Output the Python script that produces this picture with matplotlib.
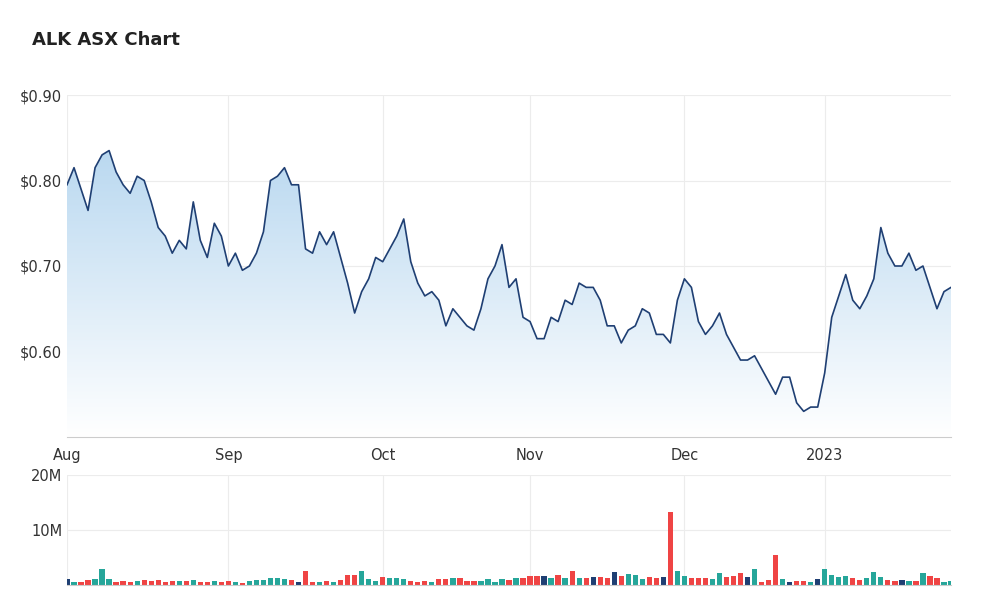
import matplotlib
matplotlib.use("Agg")
import matplotlib.pyplot as plt
import numpy as np
import pandas as pd
from matplotlib.colors import LinearSegmentedColormap

aug = [0.795,0.815,0.79,0.765,0.815,0.83,0.835,0.81,0.795,0.785,0.805,0.80,0.775,0.745,0.735,0.715,0.73,0.72,0.775,0.73,0.71,0.75,0.735]
sep = [0.70,0.715,0.695,0.70,0.715,0.74,0.80,0.805,0.815,0.795,0.795,0.72,0.715,0.74,0.725,0.74,0.71,0.68,0.645,0.67,0.685,0.71]
oct_ = [0.705,0.72,0.735,0.755,0.705,0.68,0.665,0.67,0.66,0.63,0.65,0.64,0.63,0.625,0.65,0.685,0.70,0.725,0.675,0.685,0.64]
nov = [0.635,0.615,0.615,0.64,0.635,0.66,0.655,0.68,0.675,0.675,0.66,0.63,0.63,0.61,0.625,0.63,0.65,0.645,0.62,0.62,0.61,0.66]
dec = [0.685,0.675,0.635,0.62,0.63,0.645,0.62,0.605,0.59,0.59,0.595,0.58,0.565,0.55,0.57,0.57,0.54,0.53,0.535,0.535]
jan = [0.575,0.64,0.665,0.69,0.66,0.65,0.665,0.685,0.745,0.715,0.70,0.70,0.715,0.695,0.70,0.675,0.65,0.67,0.675]
prices = aug + sep + oct_ + nov + dec + jan

volume_m = [1.1,0.6,0.6,0.9,1.1,2.9,1.1,0.6,0.7,0.6,0.8,0.9,0.8,0.9,0.6,0.7,0.8,0.8,0.9,0.6,0.6,0.8,0.6,
            0.7,0.5,0.3,0.8,0.9,0.9,1.3,1.3,1.1,0.9,0.5,2.6,0.5,0.5,0.7,0.5,0.9,1.8,1.9,2.6,1.1,0.7,1.5,1.3,1.3,1.1,0.7,0.5,0.7,
            0.5,1.1,1.1,1.3,1.3,0.7,0.7,0.7,1.1,0.5,1.1,0.9,1.3,1.3,1.7,1.6,1.7,1.3,1.9,1.3,2.6,
            1.3,1.3,1.5,1.5,1.3,2.4,1.6,2.0,1.9,1.1,1.5,1.3,1.5,13.3,2.6,1.7,1.3,1.3,1.3,1.1,2.1,1.5,1.7,
            2.1,1.5,2.9,0.5,0.9,5.5,1.1,0.5,0.7,0.7,0.5,1.1,2.9,1.9,1.5,1.7,1.3,0.9,1.3,2.4,1.5,0.9,0.7,0.9,0.7,0.7,2.1,1.7,1.3,0.5,0.7]

tick_labels = ["Aug","Sep","Oct","Nov","Dec","2023"]
tick_months = ["2022-08","2022-09","2022-10","2022-11","2022-12","2023-01"]

hol = pd.to_datetime(["2022-12-26","2022-12-27","2023-01-02","2023-01-26"])
dates = pd.bdate_range("2022-08-01","2023-01-30")
dates = dates[~dates.isin(hol)]
n = min(len(dates), len(prices), len(volume_m))
dates, prices, volume_m = dates[:n], np.array(prices[:n]), np.array(volume_m[:n])
xs = np.arange(n)
months = dates.strftime("%Y-%m")
tick_pos = [int(np.argmax(months == m)) for m in tick_months]

fig = plt.figure(figsize=(10,6.09), dpi=100)
W, H = 1000, 609
ax = fig.add_axes([67/W, 1-437/H, (951-67)/W, (437-95)/H])
axv = fig.add_axes([67/W, 1-585/H, (951-67)/W, (585-475)/H], sharex=ax)

line = "#1f3f73"
ax.plot(xs, prices, color=line, lw=1.2, zorder=3)
grad = np.linspace(0.0, 1.0, 256).reshape(-1,1)
cm = LinearSegmentedColormap.from_list("g", ["#ffffff", "#b9d8f0"])
im = ax.imshow(grad, aspect="auto", cmap=cm, origin="lower",
               extent=[xs[0], xs[-1], 0.50, 0.84], zorder=1)
poly = ax.fill_between(xs, prices, 0.50, color="none")
im.set_clip_path(poly.get_paths()[0], transform=ax.transData)
ax.set_ylim(0.50, 0.90)
ax.set_xlim(0, n - 1)
ax.set_yticks([0.60,0.70,0.80,0.90])
ax.set_yticklabels(["$0.60","$0.70","$0.80","$0.90"])
ax.set_xticks(tick_pos)
ax.set_xticklabels(tick_labels)

diff = np.diff(np.concatenate([[prices[0]], prices]))
cols = ["#26a69a" if d > 1e-9 else ("#ef4444" if d < -1e-9 else "#1f3f73") for d in diff]
axv.bar(xs, volume_m*1e6, width=0.75, color=cols)
axv.set_ylim(0, 20e6)
axv.set_yticks([10e6, 20e6])
axv.set_yticklabels(["10M","20M"])
plt.setp(axv.get_xticklabels(), visible=False)

for a in (ax, axv):
    a.grid(True, color="#ececec", lw=0.8)
    a.set_axisbelow(True)
    for s in a.spines.values():
        s.set_visible(False)
    a.tick_params(length=0, labelsize=10.5, colors="#333333")
ax.tick_params(axis="x", pad=8)
ax.spines["bottom"].set_visible(True); ax.spines["bottom"].set_color("#cccccc")
axv.spines["bottom"].set_visible(True); axv.spines["bottom"].set_color("#cccccc")

fig.text(32/W, 1-40/H, "ALK ASX Chart", fontsize=13, fontweight="bold", color="#222222", va="center")
fig.savefig("out.png", dpi=100)
